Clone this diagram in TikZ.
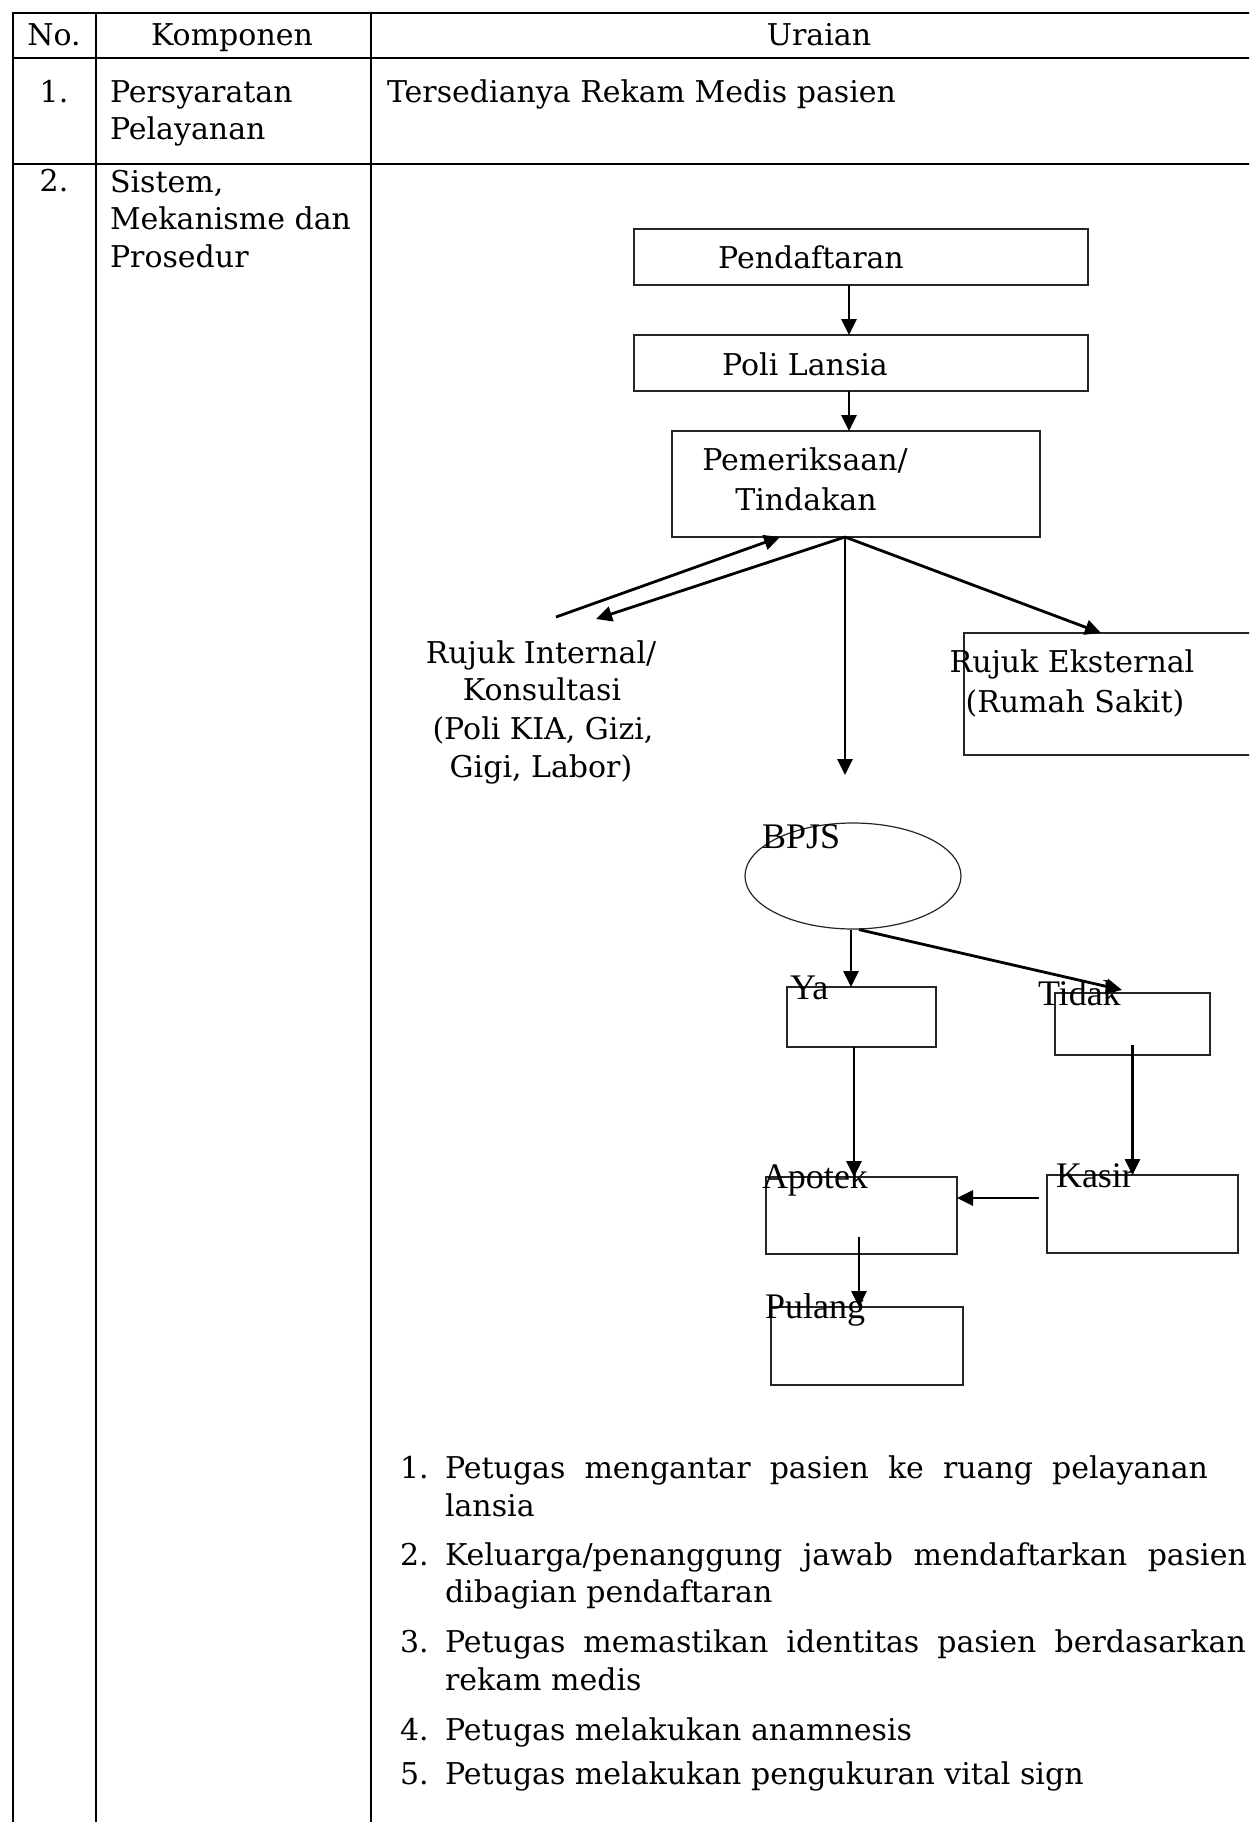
\documentclass[tikz,border=0pt]{standalone}
\usepackage{fontspec}
\setmainfont{DejaVu Serif}
\newfontfamily\labelfont{Liberation Serif}
\usetikzlibrary{arrows.meta,shapes.geometric}

\begin{document}
\begin{tikzpicture}[x=0.5pt,y=-0.5pt,
  tline/.style={line width=1.2pt},
  fbox/.style={draw=black!85, line width=0.75pt, inner sep=0pt, outer sep=0pt},
  flow/.style={line width=1.4pt, -{Triangle[length=8pt,width=7.5pt]}},
  txt/.style={font=\fontsize{15}{19}\selectfont, inner sep=0pt, outer sep=0pt},
  ltxt/.style={font=\labelfont\fontsize{18}{20}\selectfont, inner sep=0pt, outer sep=0pt},
]
% page
\useasboundingbox (0,0) rectangle (1249,1822);
\fill[white] (0,0) rectangle (1249,1822);
\clip (0,0) rectangle (1249,1822);

% ---- table grid ----
\draw[tline] (1270,13) -- (13,13) -- (13,1840);
\draw[tline] (13,58) -- (1270,58);
\draw[tline] (13,164) -- (1270,164);
\draw[tline] (96,13) -- (96,1840);
\draw[tline] (371,13) -- (371,1840);

% header
\node[txt, anchor=base] (hNo) at (54,45) {No.};
\node[txt, anchor=base] (hKomp) at (232,45) {Komponen};
\node[txt, anchor=base] (hUraian) at (819,45) {Uraian};

% row 1
\node[txt, anchor=base] (r1No) at (54,102) {1.};
\node[txt, anchor=base west] (r1a) at (110,102) {Persyaratan};
\node[txt, anchor=base west] (r1b) at (110,139) {Pelayanan};
\node[txt, anchor=base west] (r1c) at (387,102) {Tersedianya Rekam Medis pasien};

% row 2
\node[txt, anchor=base] (r2No) at (54,191) {2.};
\node[txt, anchor=base west] (r2a) at (110,192) {Sistem,};
\node[txt, anchor=base west] (r2b) at (110,229) {Mekanisme dan};
\node[txt, anchor=base west] (r2c) at (110,267) {Prosedur};

% ---- flow chart ----
\node[fbox, minimum width=227pt, minimum height=28pt] (pend) at (861,257) {};
\node[txt, anchor=base] (pendT) at (811,268) {Pendaftaran};

\node[fbox, minimum width=227pt, minimum height=28pt] (poli) at (861,363) {};
\node[txt, anchor=base] (poliT) at (805,375) {Poli Lansia};

\node[fbox, minimum width=184pt, minimum height=53pt] (pem) at (856,484) {};
\node[txt, anchor=base] (pemT1) at (805,470) {Pemeriksaan/};
\node[txt, anchor=base] (pemT2) at (806,510) {Tindakan};

\node[fbox, minimum width=148pt, minimum height=61pt] (rujE) at (1112,694) {};
\node[txt, anchor=base] (rujET1) at (1072,672) {Rujuk Eksternal};
\node[txt, anchor=base] (rujET2) at (1075,712) {(Rumah Sakit)};

\node[txt, anchor=base] (rujI1) at (541,663) {Rujuk Internal/};
\node[txt, anchor=base] (rujI2) at (542,700) {Konsultasi};
\node[txt, anchor=base] (rujI3) at (543,739) {(Poli KIA, Gizi,};
\node[txt, anchor=base] (rujI4) at (541,777) {Gigi, Labor)};

\node[ellipse, draw=black!85, line width=0.6pt, inner sep=0pt,
      minimum width=108pt, minimum height=53pt] (bpjs) at (853,876) {};
\node[ltxt, anchor=base west] (bpjsT) at (762,848) {BPJS};

\node[fbox, minimum width=74.5pt, minimum height=30pt] (ya) at (861.5,1017) {};
\node[ltxt, anchor=base west] (yaT) at (790,999) {Ya};

\node[fbox, minimum width=77.5pt, minimum height=31pt] (tidak) at (1132.5,1024) {};
\node[ltxt, anchor=base west] (tidakT) at (1038,1005) {Tidak};

\node[fbox, minimum width=95.5pt, minimum height=38.5pt] (apotek) at (861.5,1215.5) {};
\node[ltxt, anchor=base west] (apotekT) at (762,1188) {Apotek};

\node[fbox, minimum width=95.5pt, minimum height=39pt] (kasir) at (1142.5,1214) {};
\node[ltxt, anchor=base west] (kasirT) at (1056,1187) {Kasir};

\node[fbox, minimum width=96pt, minimum height=39pt] (pulang) at (867,1346) {};
\node[ltxt, anchor=base west] (pulangT) at (765,1318) {Pulang};

% connectors
\draw[flow] ([xshift=-6pt]pend.south) -- ([xshift=-6pt]pend.south |- poli.north);
\draw[flow] ([xshift=-6pt]poli.south) -- ([xshift=-6pt]poli.south |- pem.north);

\coordinate (br) at ([xshift=-5.5pt]pem.south);
\coordinate (downEnd) at (845,775);
\coordinate (intIn) at (596,619);
\coordinate (intOut) at (556,617);
\draw[flow] (br) -- (downEnd);
\draw[flow] (br) -- ([xshift=-5.5pt]rujE.north);
\draw[flow] (br) -- (intIn);
\draw[flow] (intOut) -- ([xshift=-38pt]pem.south);

\draw[flow] ([xshift=-1pt]bpjs.south) -- ([xshift=-1pt]bpjs.south |- ya.north);
\draw[flow] ([xshift=3pt]bpjs.south) -- ([shift={(-5.25pt,1.5pt)}]tidak.north);

\draw[flow] ([xshift=-3.75pt]ya.south) -- ([xshift=-3.75pt]apotek.north);
\draw[flow] ([yshift=5pt]tidak.south) -- (tidak.south |- kasir.north);
\draw[flow] ([shift={(-4pt,8pt)}]kasir.west) coordinate (kw) -- (apotek.east |- kw);
\draw[flow] ([xshift=-1.25pt,yshift=8.5pt]apotek.south) -- ([xshift=-1.25pt]apotek.south |- pulang.north);

% ---- numbered steps ----
\node[txt, anchor=base west] (n1) at (400,1478) {1.};
\node[txt, anchor=base west] (s1a) at (445,1478) {\makebox[381.5pt][s]{Petugas mengantar pasien ke ruang pelayanan}};
\node[txt, anchor=base west] (s1b) at (445,1516) {lansia};
\node[txt, anchor=base west] (n2) at (400,1565) {2.};
\node[txt, anchor=base west] (s2a) at (445,1565) {\makebox[401pt][s]{Keluarga/penanggung jawab mendaftarkan pasien}};
\node[txt, anchor=base west] (s2b) at (445,1602) {dibagian pendaftaran};
\node[txt, anchor=base west] (n3) at (400,1652) {3.};
\node[txt, anchor=base west] (s3a) at (445,1652) {\makebox[400.5pt][s]{Petugas memastikan identitas pasien berdasarkan}};
\node[txt, anchor=base west] (s3b) at (445,1690) {rekam medis};
\node[txt, anchor=base west] (n4) at (400,1740) {4.};
\node[txt, anchor=base west] (s4) at (445,1740) {Petugas melakukan anamnesis};
\node[txt, anchor=base west] (n5) at (400,1784) {5.};
\node[txt, anchor=base west] (s5) at (445,1784) {Petugas melakukan pengukuran vital sign};
\end{tikzpicture}
\end{document}
